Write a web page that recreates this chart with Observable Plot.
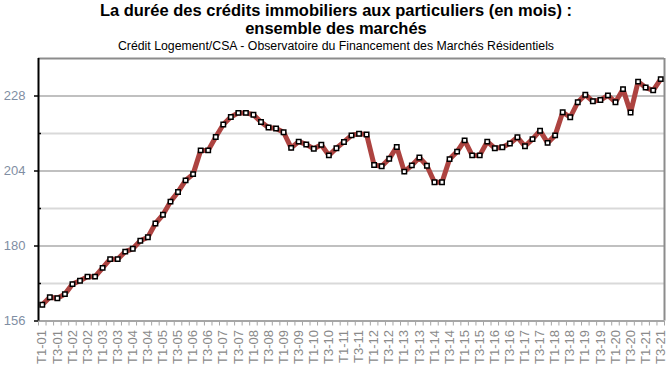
<!DOCTYPE html>
<html>
<head>
<meta charset="utf-8">
<script src="https://cdn.jsdelivr.net/npm/d3@7"></script>
<script src="https://cdn.jsdelivr.net/npm/@observablehq/plot@0.6"></script>
<style>
  html, body { margin: 0; padding: 0; background: #fff; }
  #hdr { width: 672px; height: 54px; text-align: center; color: #000; overflow: hidden; }
  #t1 { font: bold 16.5px/18px "Liberation Sans", sans-serif; padding-top: 1px; }
  #t2 { font: 12.3px/14px "Liberation Sans", sans-serif; margin-top: 2px; }
  #chart svg { display: block; }
</style>
</head>
<body>
<div id="hdr">
  <div id="t1">La durée des crédits immobiliers aux particuliers (en mois) :<br>ensemble des marchés</div>
  <div id="t2">Crédit Logement/CSA - Observatoire du Financement des Marchés Résidentiels</div>
</div>
<div id="chart"></div>
<script>
const quarters = [
  "T1-01","T2-01","T3-01","T4-01","T1-02","T2-02","T3-02","T4-02",
  "T1-03","T2-03","T3-03","T4-03","T1-04","T2-04","T3-04","T4-04",
  "T1-05","T2-05","T3-05","T4-05","T1-06","T2-06","T3-06","T4-06",
  "T1-07","T2-07","T3-07","T4-07","T1-08","T2-08","T3-08","T4-08",
  "T1-09","T2-09","T3-09","T4-09","T1-10","T2-10","T3-10","T4-10",
  "T1-11","T2-11","T3-11","T4-11","T1-12","T2-12","T3-12","T4-12",
  "T1-13","T2-13","T3-13","T4-13","T1-14","T2-14","T3-14","T4-14",
  "T1-15","T2-15","T3-15","T4-15","T1-16","T2-16","T3-16","T4-16",
  "T1-17","T2-17","T3-17","T4-17","T1-18","T2-18","T3-18","T4-18",
  "T1-19","T2-19","T3-19","T4-19","T1-20","T2-20","T3-20","T4-20",
  "T1-21","T2-21","T3-21"
];
const duree = [
  161.2,163.6,163.3,164.6,167.8,168.9,170.2,170.2,
  173.0,175.8,175.8,178.2,179.1,181.7,182.8,187.2,
  190.0,194.2,197.3,201.0,203.0,210.6,210.6,214.9,
  218.9,221.3,222.6,222.6,222.0,219.7,217.9,217.6,
  216.4,211.4,213.4,212.5,211.1,212.4,209.0,211.3,
  213.3,215.4,215.9,215.7,205.9,205.5,207.9,211.7,
  203.8,205.8,208.3,205.7,200.4,200.4,207.8,210.2,
  213.8,209.0,209.0,213.4,211.3,211.6,212.8,214.8,
  211.9,214.2,216.9,213.0,215.4,222.8,221.2,226.0,
  228.4,226.3,226.7,228.2,226.0,230.2,222.7,232.6,
  230.7,229.8,233.4
];
const yMajor = [156, 180, 204, 228];
const yMinor = [168, 192, 216];
const yMin = 156, yMax = 240;

const data = quarters.map((q, i) => ({q, i: i + 0.5, v: duree[i]}));
const n = quarters.length;
const boundaries = d3.range(0, n + 1);
const labelPos = d3.range(0, n, 2).map(i => i + 0.5);

const chart = Plot.plot({
  width: 672,
  height: 317,
  marginTop: 4,
  marginBottom: 50.5,
  marginLeft: 38,
  marginRight: 8,
  style: {fontFamily: "Liberation Sans, sans-serif", fontSize: "13px", background: "#fff"},
  x: {type: "linear", domain: [0, n]},
  y: {domain: [yMin, yMax]},
  marks: [
    Plot.ruleY(yMinor, {stroke: "#d9d9d9", strokeWidth: 2}),
    Plot.ruleY(yMajor.slice(1), {stroke: "#c0c0c0", strokeWidth: 2}),
    Plot.ruleY([yMax], {stroke: "#8c8c8c", strokeWidth: 2}),
    Plot.ruleX([n], {stroke: "#8c8c8c", strokeWidth: 2}),
    Plot.ruleY([yMin], {stroke: "#a6a6a6", strokeWidth: 2}),
    Plot.axisX({ticks: boundaries, tickSize: 5, tickFormat: () => "", stroke: "#a6a6a6", label: null}),
    Plot.axisX({ticks: labelPos, tickSize: 0, tickPadding: 9, tickRotate: -90,
      tickFormat: v => quarters[Math.round(v - 0.5)], fill: "#8a8a8a", fontSize: 13, label: null}),
    Plot.axisY({ticks: yMajor, tickSize: 4, tickPadding: 9, stroke: "#000", strokeWidth: 1.5,
      fill: "#7f8ea3", fontSize: 13, label: null}),
    Plot.axisY({ticks: yMinor, tickSize: 3, dx: 3, tickFormat: () => "", stroke: "#000", strokeWidth: 1.5, label: null}),
    Plot.ruleX([0], {stroke: "#000", strokeWidth: 2}),
    Plot.line(data, {x: "i", y: "v", stroke: "#ad4340", strokeWidth: 5}),
    Plot.dot(data, {x: "i", y: "v", symbol: "square", r: 2.5, fill: "#fff", stroke: "#000", strokeWidth: 1.5})
  ]
});
document.getElementById("chart").appendChild(chart);
</script>
</body>
</html>
